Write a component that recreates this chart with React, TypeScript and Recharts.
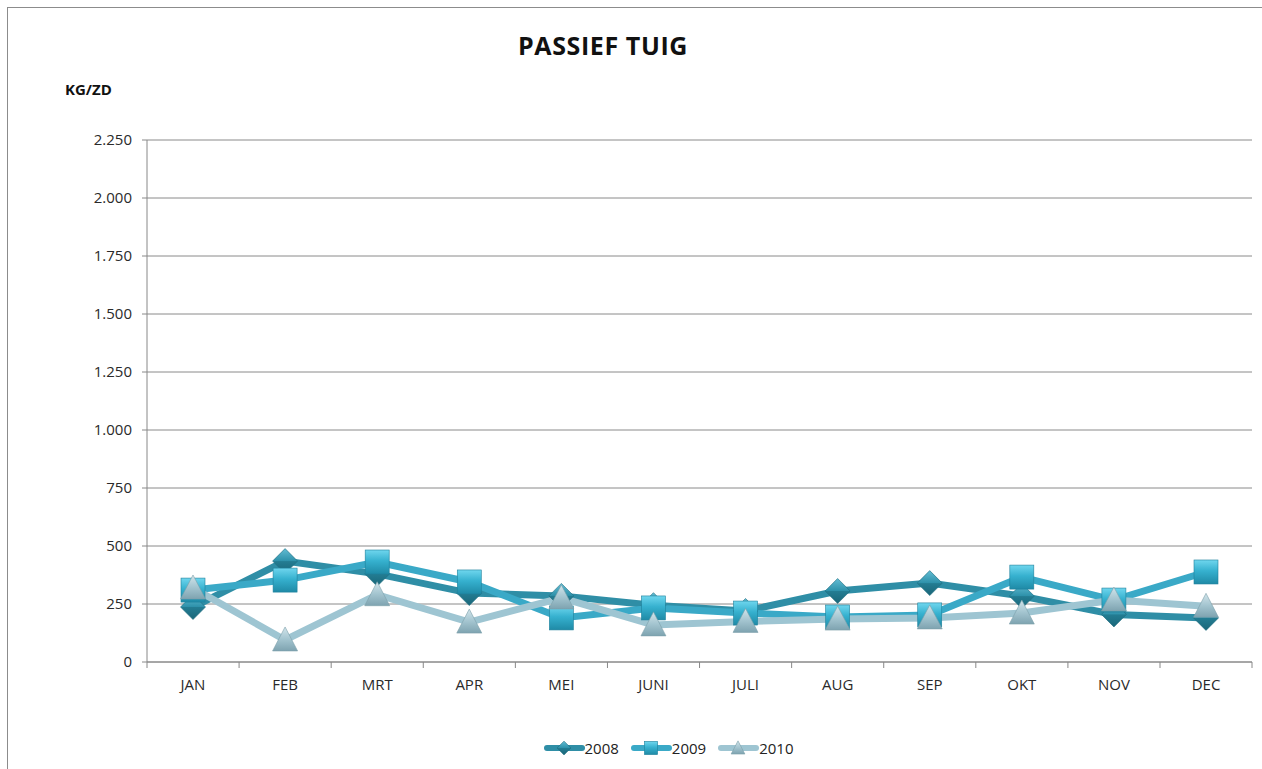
import { FC } from 'react';
import { LineChart, Line, CartesianGrid, XAxis, YAxis, Legend } from 'recharts';

const months = ['JAN', 'FEB', 'MRT', 'APR', 'MEI', 'JUNI', 'JULI', 'AUG', 'SEP', 'OKT', 'NOV', 'DEC'];
const values2008 = [237, 435, 380, 297, 285, 245, 220, 306, 340, 284, 205, 190];
const values2009 = [310, 353, 431, 345, 190, 233, 211, 194, 203, 366, 267, 388];
const values2010 = [319, 95, 290, 172, 276, 160, 175, 185, 190, 211, 267, 240];
const yTicks = [0, 250, 500, 750, 1000, 1250, 1500, 1750, 2000, 2250];

const data = months.map((m, i) => ({
    month: m,
    y2008: values2008[i],
    y2009: values2009[i],
    y2010: values2010[i],
}));

const FONT = '"Open Sans", "Noto Sans", sans-serif';
const HALF_BAND = 46;

const series = [
    { key: 'y2008', name: '2008', color: '#2f8ea6', shape: 'diamond' },
    { key: 'y2009', name: '2009', color: '#3aa9c7', shape: 'square' },
    { key: 'y2010', name: '2010', color: '#9ec5d2', shape: 'triangle' },
];

const Marker = ({ cx, cy, shape, s = 1 }: { cx: number; cy: number; shape: string; s?: number }) => {
    if (shape === 'diamond') {
        const r = 12.5 * s;
        return (
            <polygon points={`${cx},${cy - r} ${cx + r},${cy} ${cx},${cy + r} ${cx - r},${cy}`} fill="url(#gDiamond)" stroke="#1d6b7e" strokeWidth={0.6} />
        );
    }
    if (shape === 'square') {
        const r = 12 * s;
        return <rect x={cx - r} y={cy - r} width={2 * r} height={2 * r} fill="url(#gSquare)" stroke="#1f819c" strokeWidth={0.6} />;
    }
    const w = 12.5 * s;
    const h = 11 * s;
    return (
        <polygon points={`${cx},${cy - h - 2 * s} ${cx + w},${cy + h} ${cx - w},${cy + h}`} fill="url(#gTriangle)" stroke="#7c9faa" strokeWidth={0.6} />
    );
};

const makeDot = (shape: string) => (props: any) => {
    const { cx, cy, index } = props;
    if (cx == null || cy == null) return <g key={index} />;
    return (
        <g key={index}>
            <Marker cx={cx} cy={cy} shape={shape} />
        </g>
    );
};

const MonthTick = (props: any) => {
    const { x, y, payload, index } = props;
    const axisY = y - 8;
    return (
        <g>
            <line x1={x - HALF_BAND} y1={axisY} x2={x - HALF_BAND} y2={axisY + 6} stroke="#888" />
            {index === months.length - 1 && (
                <line x1={x + HALF_BAND} y1={axisY} x2={x + HALF_BAND} y2={axisY + 6} stroke="#888" />
            )}
            <text x={x} y={y + 9} dy="0.71em" textAnchor="middle" fontSize={15} fontFamily={FONT} fill="#2a2a2a">
                {payload.value}
            </text>
        </g>
    );
};

const LegendContent = () => (
    <div style={{ height: 22, display: 'flex', justifyContent: 'center', alignItems: 'center', gap: 11, paddingLeft: 84, fontFamily: FONT, fontSize: 15, color: '#222' }}>
        {series.map((s) => (
            <div key={s.key} style={{ display: 'flex', alignItems: 'center' }}>
                <svg width={42} height={20}>
                    <line x1={4} y1={10} x2={39} y2={10} stroke={s.color} strokeWidth={6} strokeLinecap="round" />
                    <Marker cx={21} cy={10} shape={s.shape} s={0.55} />
                </svg>
                <span>{s.name}</span>
            </div>
        ))}
    </div>
);

const fmt = (v: number) => v.toLocaleString('de-DE');

const App: FC = () => {
    return (
        <div style={{ position: 'relative', width: 1262, height: 769, overflow: 'hidden', background: '#fff' }}>
            <style>{'body{margin:0;overflow:hidden}'}</style>
            <div style={{ position: 'absolute', left: 7, top: 7, width: 1300, height: 800, border: '1px solid #8c8c8c' }} />
            <div style={{ position: 'absolute', left: 0, width: 1206, top: 28, textAlign: 'center', fontFamily: FONT, fontWeight: 700, fontSize: 25, letterSpacing: 0.6, color: '#111' }}>
                PASSIEF TUIG
            </div>
            <div style={{ position: 'absolute', left: 65, top: 79, fontFamily: FONT, fontWeight: 700, fontSize: 15, color: '#111' }}>
                KG/ZD
            </div>
            <div style={{ position: 'absolute', left: 0, top: 0 }}>
                <LineChart width={1262} height={769} data={data} margin={{ top: 140, right: 10, left: 0, bottom: 10 }}>
                    <defs>
                        <linearGradient id="gDiamond" x1="0" y1="0" x2="0" y2="1">
                            <stop offset="0%" stopColor="#63bdd4" />
                            <stop offset="48%" stopColor="#2f92ab" />
                            <stop offset="52%" stopColor="#237c92" />
                            <stop offset="100%" stopColor="#1a6678" />
                        </linearGradient>
                        <linearGradient id="gSquare" x1="0" y1="0" x2="0" y2="1">
                            <stop offset="0%" stopColor="#6fd6ee" />
                            <stop offset="45%" stopColor="#36b1cf" />
                            <stop offset="100%" stopColor="#1f8aa6" />
                        </linearGradient>
                        <linearGradient id="gTriangle" x1="0" y1="0" x2="0" y2="1">
                            <stop offset="0%" stopColor="#d3e5eb" />
                            <stop offset="50%" stopColor="#a4c5d0" />
                            <stop offset="100%" stopColor="#7ea3b0" />
                        </linearGradient>
                    </defs>
                    <CartesianGrid vertical={false} stroke="#8a8a8a" />
                    <XAxis
                        dataKey="month"
                        height={75}
                        padding={{ left: HALF_BAND, right: HALF_BAND }}
                        stroke="#888"
                        tickLine={false}
                        tick={<MonthTick />}
                        interval={0}
                    />
                    <YAxis
                        width={147}
                        domain={[0, 2250]}
                        ticks={yTicks}
                        tickFormatter={fmt}
                        stroke="#888"
                        tickSize={5}
                        tickMargin={10}
                        tick={{ fontSize: 15, fontFamily: FONT, fill: '#2a2a2a' }}
                        interval={0}
                    />
                    <Legend verticalAlign="bottom" content={<LegendContent />} />
                    {series.map((s) => (
                        <Line
                            key={s.key}
                            type="linear"
                            dataKey={s.key}
                            name={s.name}
                            stroke={s.color}
                            strokeWidth={7}
                            dot={makeDot(s.shape)}
                            activeDot={false}
                            isAnimationActive={false}
                        />
                    ))}
                </LineChart>
            </div>
        </div>
    );
};

export default App;
